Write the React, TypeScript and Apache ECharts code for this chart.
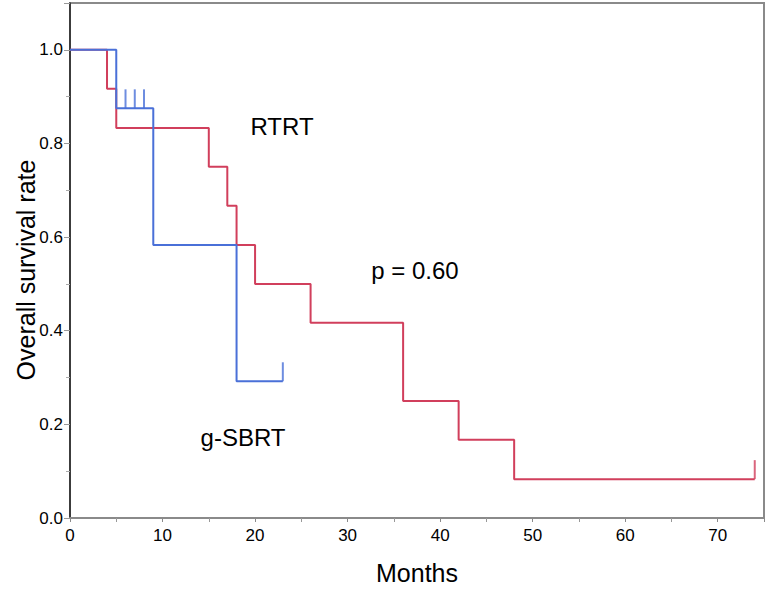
import React, { useEffect, useRef } from "react";
import * as echarts from "echarts";

const rtrtTimes = [0, 4, 5, 15, 17, 18, 20, 26, 36, 42, 48, 74];
const rtrtSurv = [1.0, 0.917, 0.833, 0.75, 0.667, 0.583, 0.5, 0.417, 0.25, 0.167, 0.083, 0.083];
const rtrtCensorTimes = [74];
const rtrtCensorSurv = [0.083];

const sbrtTimes = [0, 5, 9, 18, 23];
const sbrtSurv = [1.0, 0.875, 0.583, 0.292, 0.292];
const sbrtCensorTimes = [6, 7, 8, 23];
const sbrtCensorSurv = [0.875, 0.875, 0.875, 0.292];

const RED = "#d13f5c";
const BLUE = "#4a70d8";
const FONT = "Liberation Sans, Arial, sans-serif";

export default function App() {
  const ref = useRef<HTMLDivElement>(null);
  useEffect(() => {
    if (!ref.current) return;
    const chart = echarts.init(ref.current, undefined, { renderer: "svg" });
    const zip = (a: number[], b: number[]) => a.map((t, i) => [t, b[i]]);
    chart.setOption({
      animation: false,
      backgroundColor: "#ffffff",
      grid: { left: 70, right: 4, top: 3, bottom: 67, show: true, borderColor: "#8a8a8a", borderWidth: 2 },
      xAxis: {
        type: "value",
        min: 0,
        max: 75,
        interval: 10,
        name: "Months",
        nameLocation: "middle",
        nameGap: 42,
        nameTextStyle: { fontFamily: FONT, fontSize: 25, color: "#000" },
        axisLine: { show: true, onZero: false, lineStyle: { color: "#8a8a8a", width: 2 } },
        axisTick: { show: true, length: 4, lineStyle: { color: "#8a8a8a" } },
        minorTick: { show: true, splitNumber: 2, length: 4, lineStyle: { color: "#999" } },
        splitLine: { show: false },
        axisLabel: {
          fontFamily: FONT,
          fontSize: 17,
          color: "#000",
          margin: 9,
          showMaxLabel: false,
          formatter: (v: number) => (v > 70 ? "" : String(v)),
        },
      },
      yAxis: {
        type: "value",
        min: 0,
        max: 1.1,
        interval: 0.2,
        axisLine: { show: true, onZero: false, lineStyle: { color: "#222", width: 1.5 } },
        axisTick: { show: true, length: 6, lineStyle: { color: "#999" } },
        minorTick: { show: true, splitNumber: 2, length: 4, lineStyle: { color: "#aaa" } },
        splitLine: { show: false },
        axisLabel: {
          fontFamily: FONT,
          fontSize: 17,
          color: "#000",
          margin: 7,
          formatter: (v: number) => (v > 1.05 ? "" : v.toFixed(1)),
        },
      },
      graphic: [
        {
          type: "text",
          x: 26,
          y: 270,
          rotation: Math.PI / 2,
          style: {
            text: "Overall survival rate",
            fontFamily: FONT,
            fontSize: 25,
            fill: "#000",
            align: "center",
            verticalAlign: "middle",
          },
        },
        {
          type: "text",
          x: 282,
          y: 126,
          style: { text: "RTRT", fontFamily: FONT, fontSize: 24, fill: "#000", align: "center", verticalAlign: "middle" },
        },
        {
          type: "text",
          x: 415,
          y: 270,
          style: { text: "p = 0.60", fontFamily: FONT, fontSize: 24, fill: "#000", align: "center", verticalAlign: "middle" },
        },
        {
          type: "text",
          x: 243,
          y: 437,
          style: { text: "g-SBRT", fontFamily: FONT, fontSize: 24, fill: "#000", align: "center", verticalAlign: "middle" },
        },
      ],
      series: [
        {
          type: "line",
          name: "RTRT",
          step: "end",
          data: zip(rtrtTimes, rtrtSurv),
          showSymbol: false,
          lineStyle: { color: RED, width: 2 },
          z: 3,
        },
        {
          type: "line",
          name: "g-SBRT",
          step: "end",
          data: zip(sbrtTimes, sbrtSurv),
          showSymbol: false,
          lineStyle: { color: BLUE, width: 2 },
          z: 4,
        },
        {
          type: "scatter",
          data: zip(rtrtCensorTimes, rtrtCensorSurv),
          symbol: "rect",
          symbolSize: [2, 19],
          symbolOffset: [0, "-50%"],
          itemStyle: { color: RED },
          z: 3,
        },
        {
          type: "scatter",
          data: zip(sbrtCensorTimes, sbrtCensorSurv),
          symbol: "rect",
          symbolSize: [2, 19],
          symbolOffset: [0, "-50%"],
          itemStyle: { color: BLUE },
          z: 4,
        },
      ],
    });
    return () => chart.dispose();
  }, []);
  return <div ref={ref} style={{ width: 768, height: 590, position: "absolute", left: 0, top: 0 }} />;
}
